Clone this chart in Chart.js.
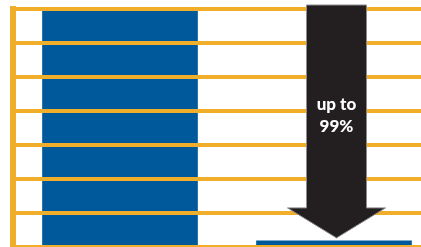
<!DOCTYPE html>
<html>
<head>
<meta charset="utf-8">
<script src="https://cdn.jsdelivr.net/npm/chart.js@4"></script>
<style>
  html, body { margin: 0; padding: 0; background: #fff; overflow: hidden; }
  #wrap { width: 441px; height: 247px; }
</style>
</head>
<body>
<div id="wrap"><canvas id="myChart" width="441" height="247"></canvas></div>
<script>
const categories = ["Before", "After"]
const values = [7, 0.18]
const arrowLines = ["up to", "99%"]

const orange = '#F0AE2A'
const blue = '#00599B'

// big black arrow pointing down onto the second bar
const arrowPlugin = {
    id: 'arrow',
    afterDraw(chart) {
        const c = chart.ctx
        const bar = chart.getDatasetMeta(0).data[1]
        const y = chart.scales.y
        const x = bar.x + 2.5
        const top = chart.chartArea.top - 4
        const tip = bar.y - 3
        const headTop = tip - 30
        c.save()
        c.beginPath()
        c.moveTo(x - 30, top)
        c.lineTo(x + 30, top)
        c.lineTo(x + 30, headTop)
        c.lineTo(x + 49, headTop)
        c.lineTo(x, tip)
        c.lineTo(x - 49, headTop)
        c.lineTo(x - 30, headTop)
        c.closePath()
        c.fillStyle = '#231F20'
        c.fill()
        c.lineWidth = 1
        c.strokeStyle = '#8c8c8c'
        c.stroke()
        c.fillStyle = '#ffffff'
        c.font = '900 17px Lato'
        c.textAlign = 'center'
        c.textBaseline = 'middle'
        c.fillText(arrowLines[0], x, y.getPixelForValue(4.2))
        c.fillText(arrowLines[1], x, y.getPixelForValue(3.55))
        c.restore()
    }
}

new Chart(document.getElementById('myChart'), {
    type: 'bar',
    data: {
        labels: categories,
        datasets: [{
            data: values,
            backgroundColor: blue,
            barThickness: 155
        }]
    },
    options: {
        responsive: false,
        animation: false,
        layout: { padding: { left: 13, top: 9, right: 0, bottom: 0 } },
        plugins: { legend: { display: false }, tooltip: { enabled: false } },
        scales: {
            x: { display: false },
            y: {
                min: 0,
                max: 7,
                ticks: { display: false, stepSize: 1 },
                grid: { color: orange, lineWidth: 4, drawTicks: false, z: 1 },
                border: { display: true, color: orange, width: 6, z: 1 }
            }
        }
    },
    plugins: [arrowPlugin]
});
</script>
</body>
</html>
